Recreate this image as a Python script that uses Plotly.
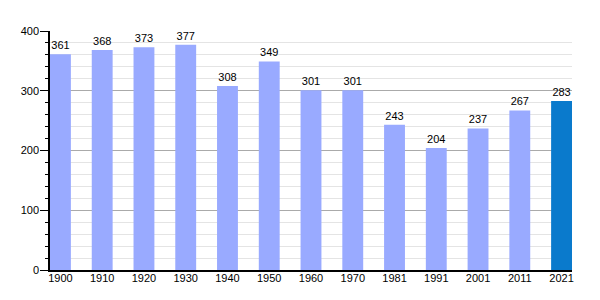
import plotly.graph_objects as go

years = ["1900", "1910", "1920", "1930", "1940", "1950", "1960", "1970", "1981", "1991", "2001", "2011", "2021"]
population = [361, 368, 373, 377, 308, 349, 301, 301, 243, 204, 237, 267, 283]
colors = ["#99aaff"] * 12 + ["#0a7acc"]

fig = go.Figure()
fig.add_trace(go.Bar(
    x=years, y=population, marker=dict(color=colors, line=dict(width=0)),
    width=0.5, text=[str(v) for v in population], textposition="outside",
    textfont=dict(size=11, color="#000000"), cliponaxis=False,
))
fig.update_layout(
    width=600, height=300,
    margin=dict(l=50, r=28, t=31, b=30),
    plot_bgcolor="#ffffff", paper_bgcolor="#ffffff",
    font=dict(family="Liberation Sans, Arial, sans-serif", size=11, color="#000000"),
    showlegend=False, bargap=0.5,
    xaxis=dict(type="category", range=[-0.25, 12.25], showline=True, linecolor="#000000",
               linewidth=1.5, ticks="", showgrid=False, tickfont=dict(size=11),
               ticklabelstandoff=-3),
    yaxis=dict(range=[0, 400], tickvals=[0, 100, 200, 300, 400], showline=True,
               linecolor="#000000", linewidth=1.5, ticks="outside", ticklen=8,
               tickcolor="#000000", gridcolor="#aaaaaa", gridwidth=1, zeroline=False,
               tickfont=dict(size=11), ticklabelstandoff=-1,
               minor=dict(dtick=20, showgrid=True, gridcolor="#e4e4e4", ticks="outside",
                          ticklen=3, tickcolor="#000000")),
)
fig.write_html("out.html")
